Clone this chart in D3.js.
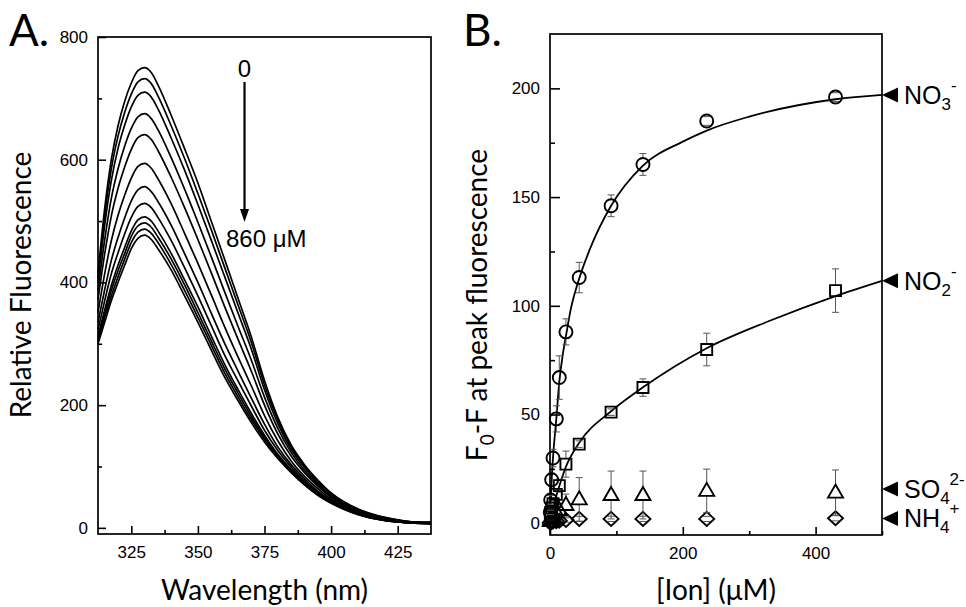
<!DOCTYPE html>
<html><head><meta charset="utf-8">
<script src="https://cdn.jsdelivr.net/npm/d3@7"></script>
<style>body{margin:0;background:#fff}svg{display:block}</style>
</head><body><svg id="c" width="966" height="607"></svg>
<script>
// ---------- Panel A data ----------
const wavelengths = [312.5,315,317.5,320,322.5,325,327.5,330,332.5,335,340,345,350,355,360,365,370,375,380,385,390,395,400,405,410,420,430,437.5];
const spec0  = [415,520,600,655,695,725,745,750,742,722,672,618,562,500,438,375,312,240,180,135,103,78,57,42,31,17,10,9];
const spec1  = [408,508,585,638,677,707,727,732,724,704,655,602,545,486,425,364,303,233,176,132,101,76,56,41,30,17,10,9];
const spec2  = [400,493,566,618,656,686,705,710,702,683,635,583,527,469,410,351,292,225,170,128,98,74,55,40,30,16,10,9];
const spec3  = [387,469,537,585,622,651,670,675,667,649,603,552,498,442,385,329,274,213,162,123,94,71,52,39,29,16,9,8];
const spec4  = [372,446,508,553,588,617,636,641,633,615,571,522,470,416,361,308,256,200,153,117,90,68,50,37,27,15,9,8];
const spec5  = [351,414,468,509,542,570,589,594,586,569,528,480,431,380,328,279,232,183,142,109,84,64,47,35,26,14,9,8];
const spec6  = [335,388,436,473,505,533,551,556,548,532,493,447,400,350,301,256,212,169,132,103,80,60,45,33,25,13,9,8];
const spec7  = [323,370,414,448,479,506,524,529,522,506,468,424,378,330,282,240,199,159,126,99,76,58,43,32,24,13,8,7];
const spec8  = [313,355,395,428,457,484,502,507,500,484,447,404,360,313,267,226,187,151,120,95,74,56,42,31,23,13,8,7];
const spec9  = [309,349,387,419,447,475,492,497,490,474,438,396,351,305,260,220,182,147,118,93,72,55,41,31,23,12,8,7];
const spec10 = [304,342,378,409,438,465,482,487,480,465,429,387,343,298,253,214,177,144,115,92,71,54,41,30,22,12,8,7];
const spec11 = [300,335,370,400,428,455,472,477,470,455,420,378,335,290,246,208,172,140,113,90,70,53,40,30,22,12,8,7];
const spectra = [spec0,spec1,spec2,spec3,spec4,spec5,spec6,spec7,spec8,spec9,spec10,spec11];
const aXTicks = [325,350,375,400,425];
const aXMinor = [337.5,362.5,387.5,412.5];
const aYTicks = [0,200,400,600,800];
const aYMinor = [100,300,500,700];
const arrowFrom = "0", arrowTo = "860 μM";

// ---------- Panel B data ----------
const concentrations = [0.5,1,2.5,4.5,9.5,14,24,44,92,140,236,430];
const no3    = [5,10.7,20,30,48,67,88,113,146,165,185,196];
const no3Err = [1,2,3,4,6,10,6,7,5,5,2,2];
const no2    = [3,5,7,9,13.3,17.3,27.2,36.4,51.1,62.4,79.9,107];
const no2Err = [1,1,1,2,2,3,6,1.5,1.5,4,7.5,10];
const so4    = [1,2,3,4,5,6,8.4,11,13,13,14.9,14.1];
const so4Err = [1,1,1,2,2,3,5,10,11,11,10,10.4];
const nh4    = [0.2,0.4,0.6,0.8,1,1.2,1.5,2,2,2,2,2.3];
const nh4Err = [0.5,0.5,0.5,0.5,0.8,0.8,1,1.2,1.2,1.2,1.2,1.2];
const no3FitX = [0,1,2.5,4.5,9.5,14,20,24.5,31,44.5,60,92,140,200,236,300,430,500];
const no3FitY = [0,10,20,30,48,65,79,87,98,113,126,146,164.5,175.5,180.6,187,195,197];
const no2FitX = [0,3,8,16,24,44,92,140,236,330,430,500];
const no2FitY = [0,5,11,19,26,37,51.5,62.5,80.5,93,104.5,111.5];
const ionBase = ["NO","NO","SO","NH"];
const ionSub  = ["3","2","4","4"];
const ionSup  = ["-","-","2-","+"];
const ionLabelValues = [197,111.5,15.8,2.2];
const bXTicks = [0,200,400];
const bXMinor = [100,300,500];
const bYTicks = [0,50,100,150,200];
const bYMinor = [25,75,125,175];

// ---------- drawing ----------
const svg = d3.select("#c");
svg.append("rect").attr("width",966).attr("height",607).attr("fill","#fff");
const tickFont = "'Liberation Sans', Arial, sans-serif";
const titleFont = "Lato, 'Open Sans', sans-serif";

function frame(g, x0, y0, x1, y1){
  g.append("rect").attr("x",x0).attr("y",y0).attr("width",x1-x0).attr("height",y1-y0)
    .attr("fill","none").attr("stroke","#000").attr("stroke-width",1.7);
}
function styleAxis(sel, fs){
  sel.select(".domain").remove();
  sel.selectAll(".tick line").attr("stroke","#000").attr("stroke-width",1.6);
  sel.selectAll(".tick text").attr("font-family",tickFont).attr("font-size",fs).attr("fill","#000");
}

// Panel A
const xA = d3.scaleLinear().domain([312.5,437.5]).range([98,431]);
const yA = d3.scaleLinear().domain([-10,800]).range([534,37]);
const gA = svg.append("g");
const lineA = d3.line().x((d,i)=>xA(wavelengths[i])).y(d=>yA(d)).curve(d3.curveMonotoneX);
gA.append("g").selectAll("path").data(spectra).join("path")
  .attr("d",lineA).attr("fill","none").attr("stroke","#000").attr("stroke-width",1.7);
frame(gA,98,37,431,534);
styleAxis(gA.append("g").attr("transform","translate(0,534)")
  .call(d3.axisBottom(xA).tickValues(aXTicks).tickSize(-8).tickPadding(12).tickFormat(d3.format("d"))),17);
styleAxis(gA.append("g").attr("transform","translate(0,534)")
  .call(d3.axisBottom(xA).tickValues(aXMinor).tickSize(-4).tickFormat("")),17);
styleAxis(gA.append("g").attr("transform","translate(98,0)")
  .call(d3.axisLeft(yA).tickValues(aYTicks).tickSize(-8).tickPadding(10).tickFormat(d3.format("d"))),17);
styleAxis(gA.append("g").attr("transform","translate(98,0)")
  .call(d3.axisLeft(yA).tickValues(aYMinor).tickSize(-4).tickFormat("")),17);

gA.append("text").attr("x",264.5).attr("y",600).attr("text-anchor","middle")
  .attr("font-family",titleFont).attr("font-size",28).text("Wavelength (nm)");
gA.append("text").attr("transform","translate(31,285) rotate(-90)").attr("text-anchor","middle")
  .attr("font-family",titleFont).attr("font-size",28).text("Relative Fluorescence");
svg.append("text").attr("x",9).attr("y",46).attr("font-family",titleFont).attr("font-size",44).text("A.");

// arrow annotation
const arrowX = xA(367.5);
gA.append("text").attr("x",arrowX).attr("y",77).attr("text-anchor","middle")
  .attr("font-family",tickFont).attr("font-size",24).text(arrowFrom);
gA.append("line").attr("x1",arrowX).attr("x2",arrowX).attr("y1",82).attr("y2",212)
  .attr("stroke","#000").attr("stroke-width",2.2);
gA.append("path").attr("d",`M${arrowX-4.5},${209}L${arrowX+4.5},${209}L${arrowX},${222}Z`).attr("fill","#000");
gA.append("text").attr("x",226).attr("y",247).attr("font-family",tickFont).attr("font-size",24).text(arrowTo);

// Panel B
const xB = d3.scaleLinear().domain([0,500]).range([550,882]);
const yB = d3.scaleLinear().domain([-5.4,225]).range([535,34]);
const gB = svg.append("g");
frame(gB,550,34,882,535);
styleAxis(gB.append("g").attr("transform","translate(0,535)")
  .call(d3.axisBottom(xB).tickValues(bXTicks).tickSize(-8).tickPadding(12).tickFormat(d3.format("d"))),17);
styleAxis(gB.append("g").attr("transform","translate(0,535)")
  .call(d3.axisBottom(xB).tickValues(bXMinor).tickSize(-4).tickFormat("")),17);
styleAxis(gB.append("g").attr("transform","translate(550,0)")
  .call(d3.axisLeft(yB).tickValues(bYTicks).tickSize(-10).tickPadding(10).tickFormat(d3.format("d"))),17);
styleAxis(gB.append("g").attr("transform","translate(550,0)")
  .call(d3.axisLeft(yB).tickValues(bYMinor).tickSize(-5).tickFormat("")),17);

const fitLine = d3.line().x(d=>xB(d[0])).y(d=>yB(d[1])).curve(d3.curveMonotoneX);
gB.append("path").attr("d",fitLine(no3FitX.map((x,i)=>[x,no3FitY[i]]))).attr("fill","none").attr("stroke","#000").attr("stroke-width",1.8);
gB.append("path").attr("d",fitLine(no2FitX.map((x,i)=>[x,no2FitY[i]]))).attr("fill","none").attr("stroke","#000").attr("stroke-width",1.8);

const shapes = {
  circle: "M6.5,0A6.5,6.5,0,1,1,-6.5,0A6.5,6.5,0,1,1,6.5,0Z",
  square: "M-5.5,-5.5H5.5V5.5H-5.5Z",
  triangle: "M0,-8L7.5,5L-7.5,5Z",
  diamond: "M0,-7L7.5,0L0,7L-7.5,0Z"
};
const halfH = {circle:[6.5,6.5], square:[5.5,5.5], triangle:[8,5], diamond:[7,7]};
function series(vals, errs, shape){
  const pts = concentrations.map((c,i)=>({x:xB(c), y:yB(vals[i]), t:yB(vals[i]+errs[i]), b:yB(vals[i]-errs[i])}));
  const g = gB.append("g");
  const [hu,hd] = halfH[shape];
  const eb = g.append("g").attr("stroke","#555").attr("stroke-width",1);
  pts.forEach(p=>{
    if (p.y - p.t > hu) eb.append("line").attr("x1",p.x).attr("x2",p.x).attr("y1",p.t).attr("y2",p.y-hu);
    if (p.b - p.y > hd) eb.append("line").attr("x1",p.x).attr("x2",p.x).attr("y1",p.y+hd).attr("y2",p.b);
    eb.append("line").attr("x1",p.x-3.5).attr("x2",p.x+3.5).attr("y1",p.t).attr("y2",p.t);
    eb.append("line").attr("x1",p.x-3.5).attr("x2",p.x+3.5).attr("y1",p.b).attr("y2",p.b);
  });
  g.selectAll("path.m").data(pts).join("path").attr("class","m")
    .attr("transform",p=>`translate(${p.x},${p.y})`).attr("d",shapes[shape])
    .attr("fill","none").attr("stroke","#000").attr("stroke-width",1.9);
}
series(nh4,nh4Err,"diamond");
series(so4,so4Err,"triangle");
series(no2,no2Err,"square");
series(no3,no3Err,"circle");

// right-side ion labels
ionLabelValues.forEach((v,i)=>{
  const y = yB(v);
  gB.append("path").attr("d",`M882,${y}L898,${y-7.5}L898,${y+7.5}Z`).attr("fill","#000");
  const t = gB.append("text").attr("x",904).attr("y",y+9).attr("font-family",tickFont).attr("font-size",25);
  t.append("tspan").text(ionBase[i]);
  t.append("tspan").attr("font-size",17).attr("dy",6).text(ionSub[i]);
  t.append("tspan").attr("font-size",17).attr("dy",-19).text(ionSup[i]);
});

gB.append("text").attr("x",716).attr("y",600).attr("text-anchor","middle")
  .attr("font-family",titleFont).attr("font-size",28).text("[Ion] (μM)");
const yt = gB.append("text").attr("transform","translate(487,305) rotate(-90)").attr("text-anchor","middle")
  .attr("font-family",titleFont).attr("font-size",28);
yt.append("tspan").text("F");
yt.append("tspan").attr("font-size",19).attr("dy",7).text("0");
yt.append("tspan").attr("dy",-7).text("-F at peak fluorescence");
svg.append("text").attr("x",463).attr("y",46).attr("font-family",titleFont).attr("font-size",44).text("B.");
</script></body></html>
